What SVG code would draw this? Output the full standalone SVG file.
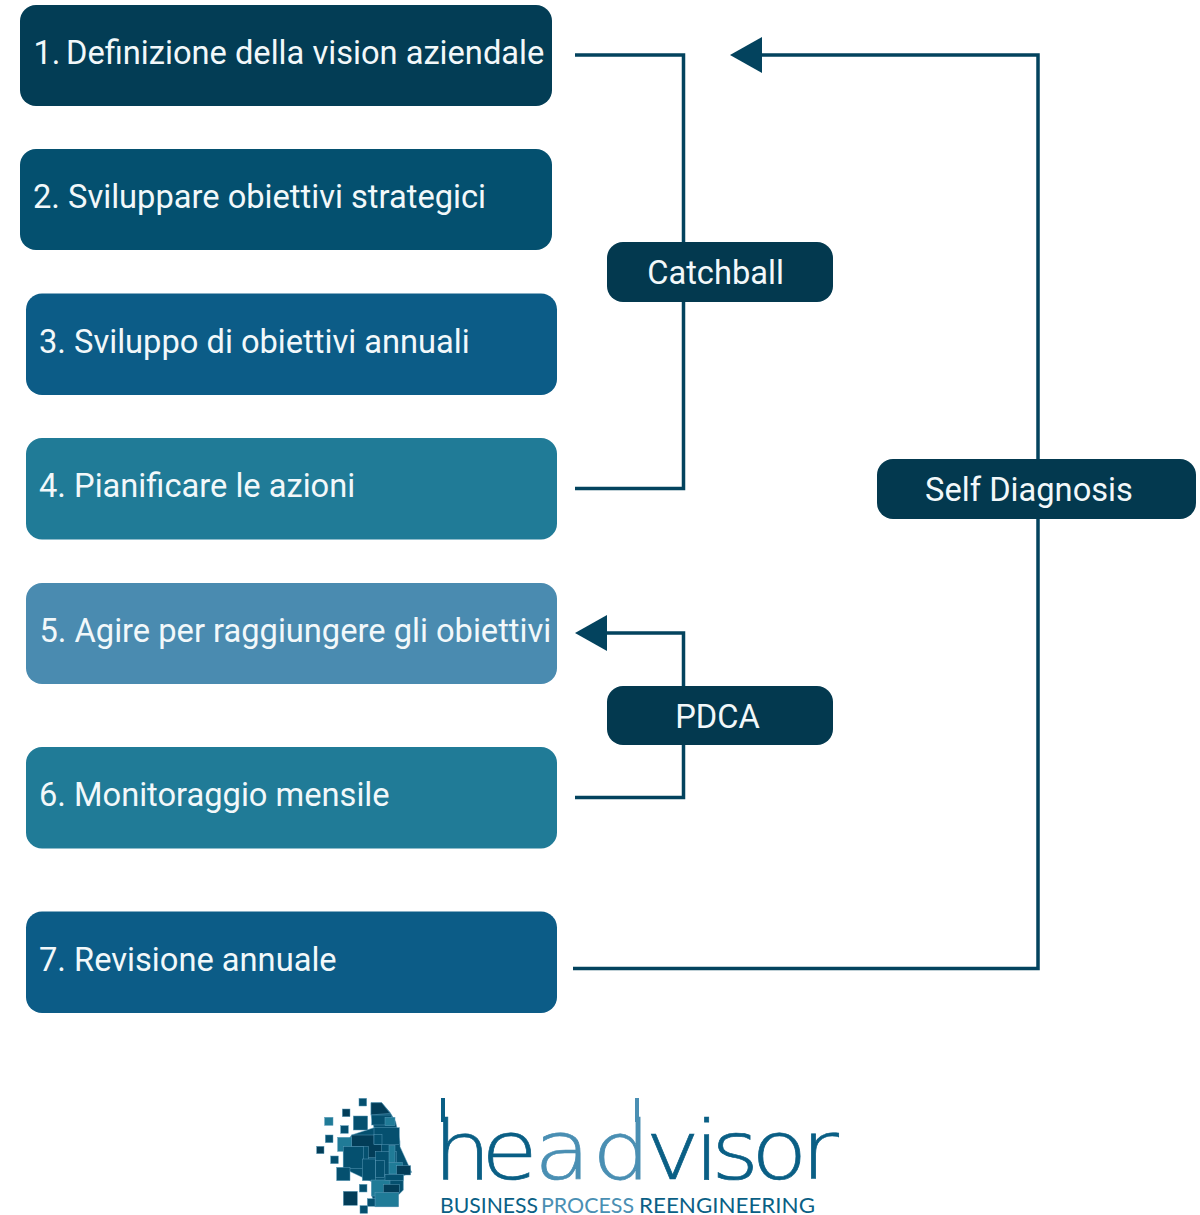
<svg xmlns="http://www.w3.org/2000/svg" width="1200" height="1215" viewBox="0 0 1200 1215">
<style>
text{font-family:Roboto,"Liberation Sans",sans-serif;fill:#f2f8fa}
.t{font-size:32.65px}
.c{font-size:32.65px;text-anchor:middle}
.l{fill:#03394f}
.w{fill:none;stroke:#03435e;stroke-width:3.5}
.a{fill:#03435e}
.big{font-family:"DejaVu Sans",sans-serif;font-weight:200;font-size:82px;stroke:#0a5f85;stroke-width:.7}
.sub{font-family:Lato,"Open Sans",sans-serif;font-size:21.500px;font-weight:400}
text.d{fill:#0a5f85}text.e{fill:#4a8fb3}tspan.e{fill:#4a8fb3;stroke:#4a8fb3}
.rd{fill:#0a5f85}.re{fill:#4a8fb3}
.hd{fill:#033d58;stroke:#5a9ab8;stroke-width:1.500}
.hm{fill:#05506f;stroke:#5a9ab8;stroke-width:1.500}
.ht{fill:#207b97;stroke:#5a9ab8;stroke-width:1.500}
</style>
<rect width="1200" height="1215" fill="#fff"/>
<g id="connectors">
<path class="w" d="M575 55H683.500V488.500H575"/>
<path class="w" d="M573 968.500H1038V55H760"/>
<polygon class="a" points="730,55 762,37 762,73"/>
<path class="w" d="M575 797.500H683.500V633H605"/>
<polygon class="a" points="575,633 607,615 607,651"/>
</g>
<g id="n1"><rect x="20" y="5" width="532" height="101" rx="16" fill="#033d55"/><text class="t" x="33.500" y="63.500">1. <tspan x="66">Definizione della vision aziendale</tspan></text></g>
<g id="n2"><rect x="20" y="149" width="532" height="101" rx="16" fill="#04506f"/><text class="t" x="33" y="208">2. Sviluppare obiettivi strategici</text></g>
<g id="n3"><rect x="26" y="293.500" width="531" height="101.500" rx="16" fill="#0c5c87"/><text class="t" x="39" y="352.500">3. Sviluppo di obiettivi annuali</text></g>
<g id="n4"><rect x="26" y="438" width="531" height="101.500" rx="16" fill="#207b97"/><text class="t" x="39" y="497">4. Pianificare le azioni</text></g>
<g id="n5"><rect x="26" y="583" width="531" height="101" rx="16" fill="#4a8bb0"/><text class="t" x="39.500" y="642">5. Agire per raggiungere gli obiettivi</text></g>
<g id="n6"><rect x="26" y="747" width="531" height="101.500" rx="16" fill="#207b97"/><text class="t" x="39" y="806">6. Monitoraggio mensile</text></g>
<g id="n7"><rect x="26" y="911.500" width="531" height="101.500" rx="16" fill="#0c5c87"/><text class="t" x="39" y="970.500">7. Revisione annuale</text></g>
<g id="catchball"><rect class="l" x="607" y="242" width="226" height="60" rx="16"/><text class="c" x="715.500" y="284">Catchball</text></g>
<g id="pdca"><rect class="l" x="607" y="686" width="226" height="59" rx="16"/><text class="c" x="717.500" y="728">PDCA</text></g>
<g id="self-diagnosis"><rect class="l" x="877" y="459" width="319" height="60" rx="16"/><text class="c" x="1029" y="501">Self Diagnosis</text></g>
<g id="logo">
<g transform="translate(300 1085) scale(.3333)">
<polygon class="hm" points="213,53 245,53 270,82 287,110 300,170 300,185 335,262 310,272 310,315 295,330 295,365 225,365 215,330 215,290 130,250 130,185 155,150 222,128 213,90"/>
<polygon class="hd" points="213,53 245,53 270,85 213,90"/>
<rect class="hm" x="215" y="90" width="60" height="30"/><rect class="ht" x="255" y="97" width="30" height="25"/>
<rect class="hd" x="155" y="150" width="90" height="68"/><rect class="ht" x="113" y="157" width="42" height="42"/>
<rect class="hm" x="222" y="128" width="76" height="50"/><rect class="hm" x="222" y="148" width="24" height="30"/>
<rect class="hm" x="155" y="185" width="50" height="42"/><rect class="hm" x="130" y="185" width="60" height="65"/>
<rect class="hm" x="227" y="200" width="62" height="70"/><rect class="hm" x="187" y="222" width="40" height="65"/><rect class="hm" x="227" y="227" width="27" height="50"/>
<rect class="ht" x="267" y="182" width="18" height="50"/><rect class="ht" x="267" y="232" width="40" height="35"/><rect class="hd" x="290" y="242" width="42" height="28"/>
<rect class="ht" x="215" y="285" width="55" height="48"/><rect class="ht" x="225" y="322" width="70" height="43"/><rect class="hd" x="250" y="298" width="48" height="24"/><rect class="hm" x="255" y="268" width="55" height="18"/>
<rect class="hm" x="177" y="40" width="23" height="23"/><rect class="hd" x="127" y="72" width="23" height="23"/><rect class="ht" x="74" y="97" width="25" height="24"/><rect class="hm" x="160" y="93" width="43" height="42"/><rect class="hm" x="122" y="122" width="23" height="23"/><rect class="hm" x="76" y="150" width="23" height="23"/><rect class="hd" x="50" y="184" width="22" height="22"/><rect class="hm" x="92" y="213" width="23" height="23"/><rect class="hm" x="110" y="247" width="40" height="40"/><rect class="hm" x="178" y="298" width="23" height="23"/><rect class="hd" x="130" y="319" width="42" height="42"/><rect class="hm" x="202" y="341" width="23" height="23"/><rect class="hm" x="180" y="362" width="23" height="23"/>
</g>
<rect class="rd" x="441" y="1098" width="4" height="24"/>
<rect class="re" x="635" y="1098" width="4" height="24"/>
<text class="big d" transform="translate(0 1179) scale(1.12 1)"><tspan x="386.800 429.700">he</tspan><tspan class="e" x="477.100 528.800">ad</tspan><tspan x="576.400 619.800 635 670.800 715.200">visor</tspan></text>
<text class="sub d" x="440" y="1213" textLength="98" lengthAdjust="spacingAndGlyphs">BUSINESS</text>
<text class="sub e" x="541" y="1213" textLength="93" lengthAdjust="spacingAndGlyphs">PROCESS</text>
<text class="sub d" x="639" y="1213" textLength="176" lengthAdjust="spacingAndGlyphs">REENGINEERING</text>
</g>
</svg>
